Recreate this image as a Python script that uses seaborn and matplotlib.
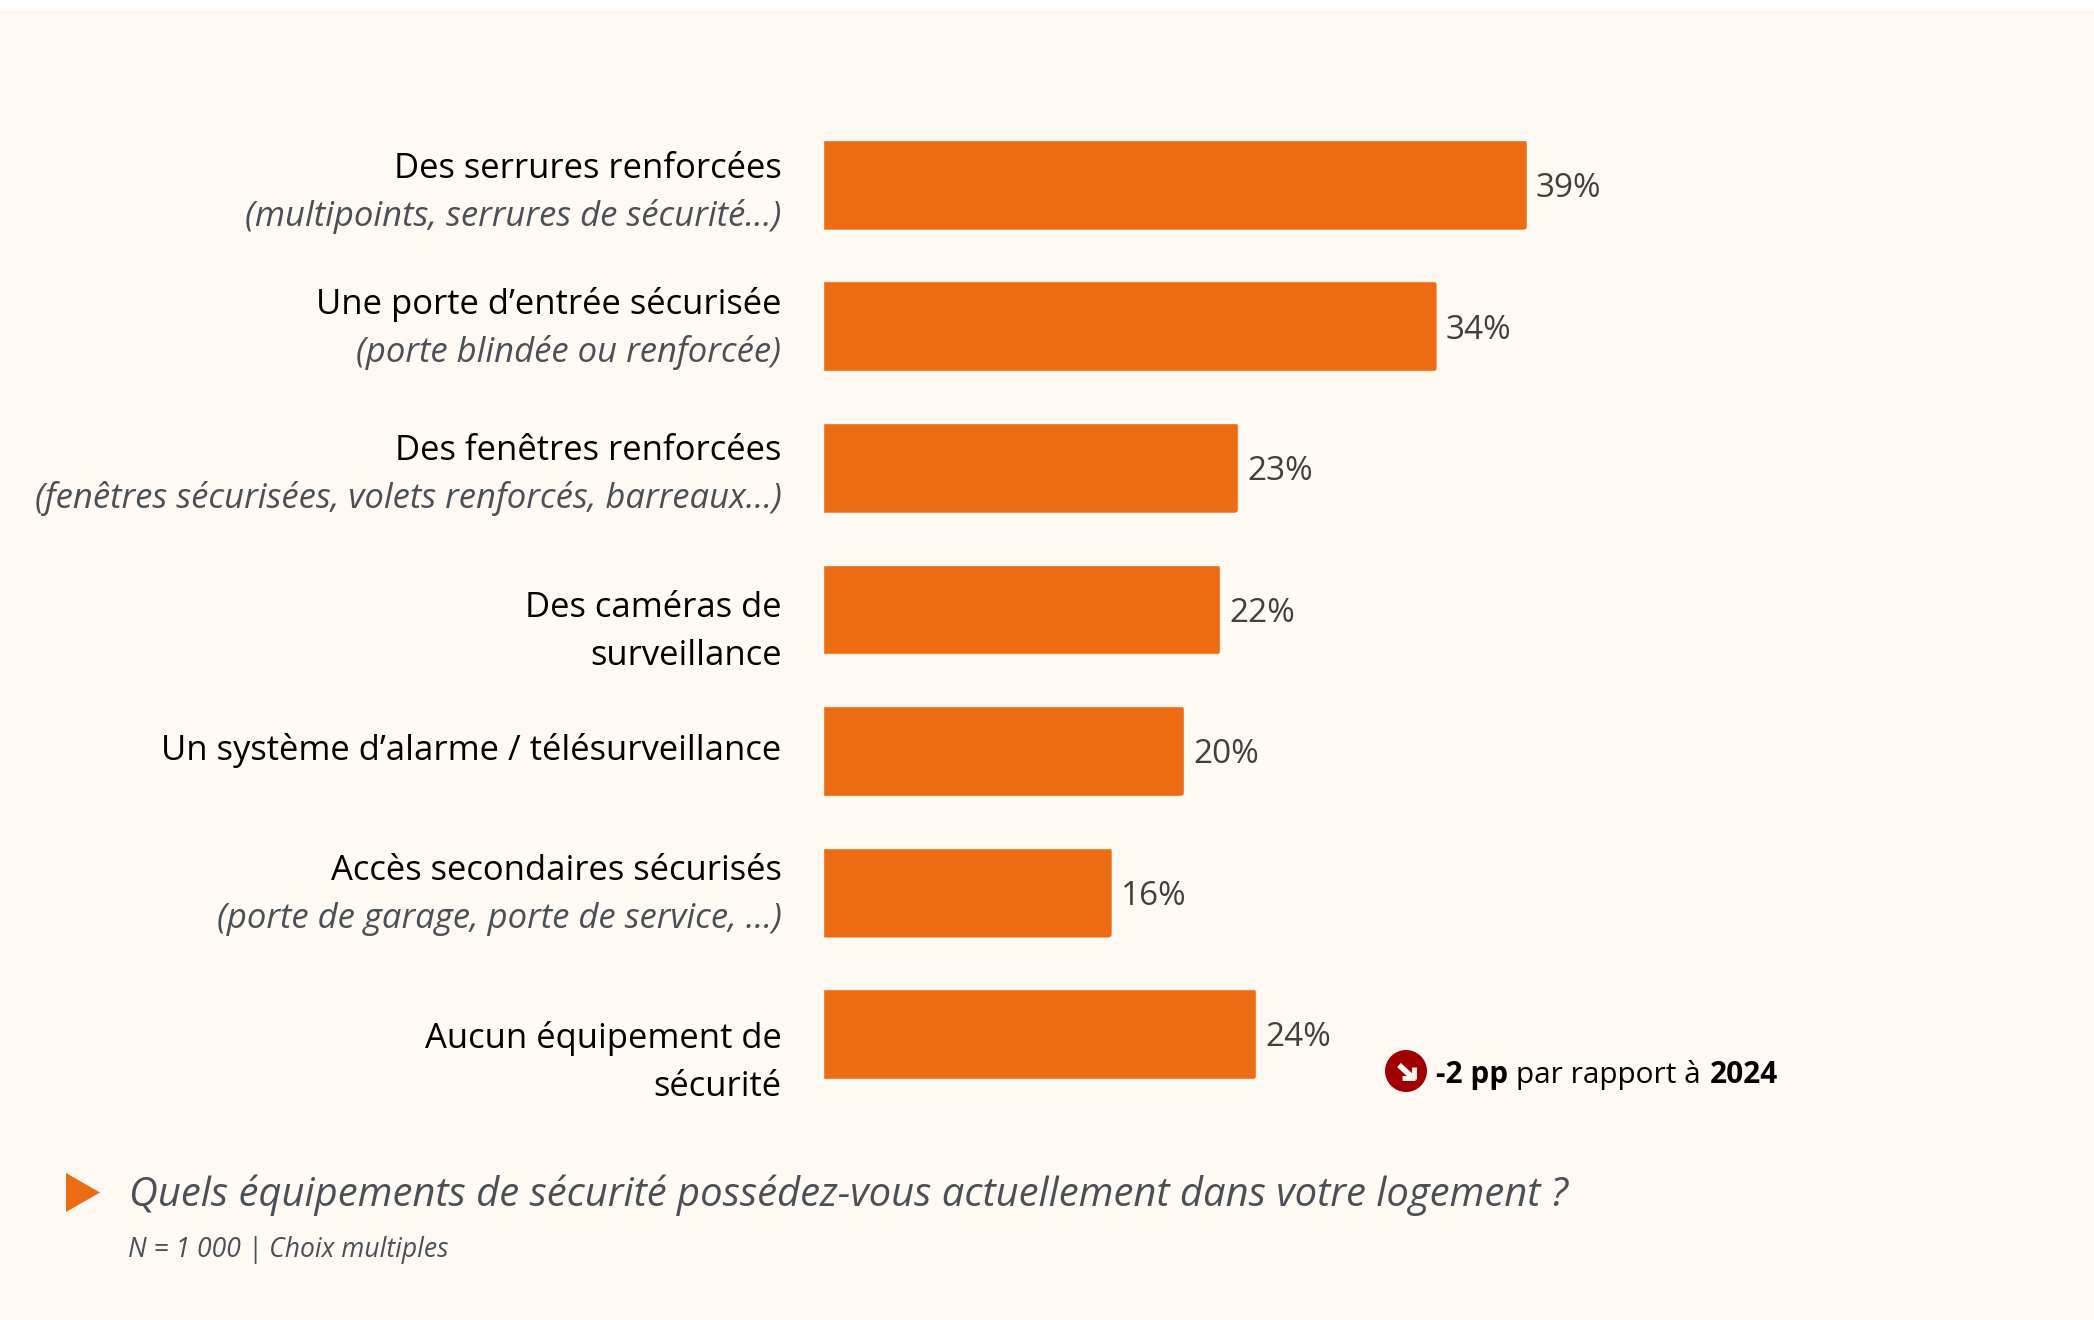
import numpy as np
import pandas as pd
import matplotlib
matplotlib.use("Agg")
import matplotlib.pyplot as plt
from matplotlib.lines import Line2D
from matplotlib.patches import Rectangle, Circle, Polygon, FancyBboxPatch
from matplotlib.transforms import IdentityTransform
import seaborn as sns

# Chart data
categories = ["Des serrures renforcées", "Une porte d’entrée sécurisée", "Des fenêtres renforcées",
              "Des caméras de surveillance", "Un système d’alarme / télésurveillance",
              "Accès secondaires sécurisés", "Aucun équipement de sécurité"]
values = [39, 34, 23, 22, 20, 16, 24]

# Label lines, (text, italic, y centre in pixels)
label_lines = [
    ("Des serrures renforcées", False, 169), ("(multipoints, serrures de sécurité…)", True, 216),
    ("Une porte d’entrée sécurisée", False, 304), ("(porte blindée ou renforcée)", True, 353),
    ("Des fenêtres renforcées", False, 451), ("(fenêtres sécurisées, volets renforcés, barreaux…)", True, 499),
    ("Des caméras de", False, 608), ("surveillance", False, 656),
    ("Un système d’alarme / télésurveillance", False, 751),
    ("Accès secondaires sécurisés", False, 871), ("(porte de garage, porte de service, …)", True, 919),
    ("Aucun équipement de", False, 1038), ("sécurité", False, 1087),
]
question = "Quels équipements de sécurité possédez-vous actuellement dans votre logement ?"
note = "N = 1 000 | Choix multiples"

W, H = 2094, 1320
BG = "#FEF9F3"
ORANGE = "#EC6B13"
GREY = "#4A5056"

sns.set_theme(style="white")
plt.rcParams["font.family"] = ["Open Sans", "DejaVu Sans"]

df = pd.DataFrame({"categorie": categories, "valeur": values})

fig = plt.figure(figsize=(W / 100, H / 100), dpi=100, facecolor="white")
fig.patches.append(Rectangle((0, 0), 1, 1 - 9 / H, transform=fig.transFigure, facecolor=BG, edgecolor="none", zorder=-5))

# 18.03 px per percent, 141.6 px per row
ax = fig.add_axes([823 / W, 1 - 1105 / H, 1200 / W, 991 / H])
ax.patch.set_alpha(0)
sns.barplot(data=df, x="valeur", y="categorie", color=ORANGE, saturation=1, width=0.635, ax=ax)
ax.set_xlim(0, 1200 / 18.05)
ax.set_ylim(6.5, -0.5)
ax.set_xlabel("")
ax.set_ylabel("")
ax.set_xticks([])
ax.set_yticks([])
sns.despine(ax=ax, left=True, bottom=True)

# Small rounded corners on the right end of each bar
fig.canvas.draw()
for bar in ax.patches:
    bb = bar.get_window_extent()
    clip = FancyBboxPatch((bb.x0 - 10, bb.y0 + 3), bb.width + 7, bb.height - 6,
                          boxstyle="round,pad=3,rounding_size=4", transform=IdentityTransform())
    bar.set_clip_path(clip)

for i, v in enumerate(values):
    ax.annotate(f"{v}%", (v, i), xytext=(6.5, -2.7), textcoords="offset points", va="center", ha="left",
                fontsize=24, color="#404040")


def px_text(x, y, s, **kw):
    kw.setdefault("va", "center")
    return fig.text(x / W, 1 - y / H, s, **kw)


for s, italic, y in label_lines:
    px_text(781.5, y, s, ha="right", fontsize=24.9, color=GREY if italic else "black",
            style="italic" if italic else "normal")

# Trend note
fig.patches.append(Circle((1406, H - 1071), 21, transform=IdentityTransform(), facecolor="#A00000", edgecolor="none"))
for xs, ys, lw in [((1399, 1412), (1065, 1077), 4), ((1402, 1415), (1077.5, 1077.5), 3.5),
                   ((1413.5, 1413.5), (1067, 1079), 3.5)]:
    fig.add_artist(Line2D(xs, [H - y for y in ys], transform=IdentityTransform(), color=BG, lw=lw,
                          solid_capstyle="butt"))
t1 = px_text(1436, 1083, "-2 pp", va="baseline", fontsize=21.45, fontweight="bold", color="black")
t2 = fig.text(0, 0, "par rapport à", fontsize=21.45, color="black")
t3 = fig.text(0, 0, "2024", fontsize=21.45, fontweight="bold", color="black")
r = fig.canvas.get_renderer()
x = t1.get_window_extent(r).x1
t2.set_position(((x + 8) / W, 1 - 1083 / H))
x = t2.get_window_extent(r).x1
t3.set_position(((x + 9) / W, 1 - 1083 / H))

# Question and note
fig.patches.append(Polygon([(66, H - 1173), (100, H - 1192.5), (66, H - 1212)], closed=True,
                           transform=IdentityTransform(), facecolor=ORANGE, edgecolor="none"))
px_text(129, 1195, question, fontsize=28.85, style="italic", color=GREY)
px_text(128, 1250, note, fontsize=19.1, style="italic", color=GREY)

fig.savefig("out.png", dpi=100, facecolor="white")
